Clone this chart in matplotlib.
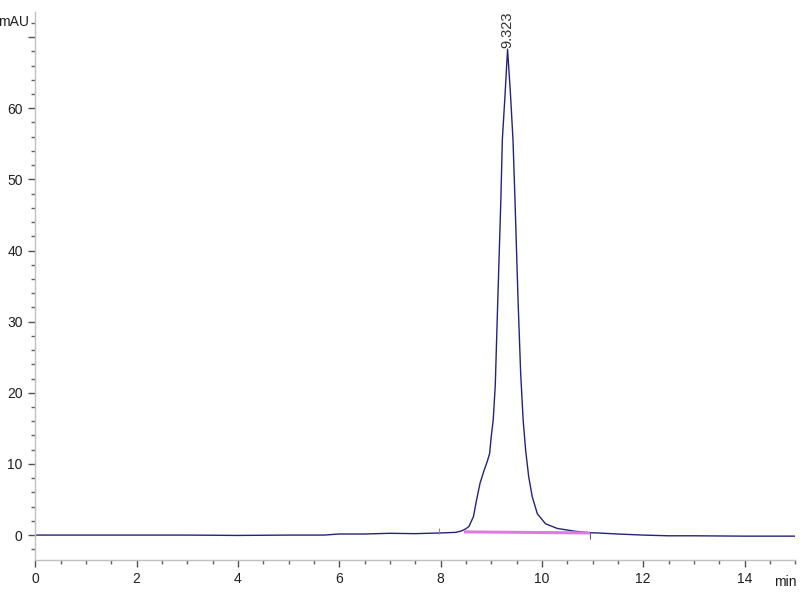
import matplotlib
matplotlib.use("Agg")
import matplotlib.pyplot as plt
from matplotlib.ticker import MultipleLocator, FixedLocator

plt.rcParams["font.family"] = ["Liberation Sans Narrow", "Liberation Sans", "DejaVu Sans"]

# chromatogram trace (min, mAU)
time_min = [0, 1, 2, 3, 4, 5, 5.7, 6.0, 6.5, 7.0, 7.5, 8.0, 8.3, 8.40, 8.48,
            8.56, 8.65, 8.71, 8.78, 8.86, 8.92, 8.97, 9.00, 9.04, 9.08, 9.13,
            9.19, 9.22, 9.27, 9.323, 9.38, 9.43, 9.47, 9.53, 9.58, 9.63, 9.68,
            9.74, 9.81, 9.91, 10.07, 10.30, 10.63, 10.93, 11.1, 11.5, 12.0,
            12.5, 13, 14, 15]
signal = [0, 0, 0, 0, -0.05, 0, 0, 0.15, 0.15, 0.25, 0.2, 0.3, 0.38, 0.56, 0.8,
          1.2, 2.6, 4.9, 7.3, 9.1, 10.3, 11.5, 13.8, 16.2, 21, 33,
          47, 55.6, 61.5, 68.3, 62, 55.6, 47, 33, 23, 16.2, 11.9,
          8.2, 5.4, 3.0, 1.6, 0.94, 0.56, 0.33, 0.3, 0.15, 0,
          -0.1, -0.1, -0.15, -0.15]

# integration baseline and event marks
base_x = [8.46, 10.95]
base_y = [0.45, 0.3]
event_x = [7.97, 10.95]
peak_rt = 9.323
peak_h = 68.3
peak_label = "9.323"

fig = plt.figure(figsize=(8, 6), dpi=100)
ax = fig.add_axes([0.044, 0.0667, 0.95, 0.913])

ax.plot(time_min, signal, color="#23237a", lw=1.0)
ax.plot(base_x, base_y, color="#e07ae0", lw=2.2, solid_capstyle="butt")
ax.vlines(event_x[0], 0.2, 1.0, color="#8a8aa0", lw=0.8)
ax.vlines(event_x[1], -0.6, 0.3, color="#606070", lw=0.8)

ax.text(peak_rt, peak_h + 0.2, peak_label, rotation=90, ha="center", va="bottom",
        fontsize=10.5, color="#303030")

ax.set_xlim(0, 15)
ax.set_ylim(-3.5, 73.5)
ax.xaxis.set_major_locator(MultipleLocator(2))
ax.xaxis.set_minor_locator(MultipleLocator(0.5))
ax.yaxis.set_major_locator(FixedLocator([0, 10, 20, 30, 40, 50, 60, 70]))
ax.yaxis.set_minor_locator(MultipleLocator(2))
ax.set_yticklabels(["0", "10", "20", "30", "40", "50", "60", ""])

for s in ["top", "right"]:
    ax.spines[s].set_visible(False)
for s in ["left", "bottom"]:
    ax.spines[s].set_color("#c0c0c0")
    ax.spines[s].set_linewidth(1.0)

ax.tick_params(axis="both", which="major", direction="out", length=5, width=1,
               color="#505050", labelsize=10, labelcolor="#202020", pad=4)
ax.tick_params(axis="both", which="minor", direction="out", length=3, width=1,
               color="#606060")

fig.text(785 / 800, 1 - 582 / 600, "min", ha="center", va="center", fontsize=10, color="#202020")
fig.text(14 / 800, 1 - 22 / 600, "mAU", ha="center", va="center", fontsize=10, color="#202020")

fig.savefig("out.png", dpi=100)
